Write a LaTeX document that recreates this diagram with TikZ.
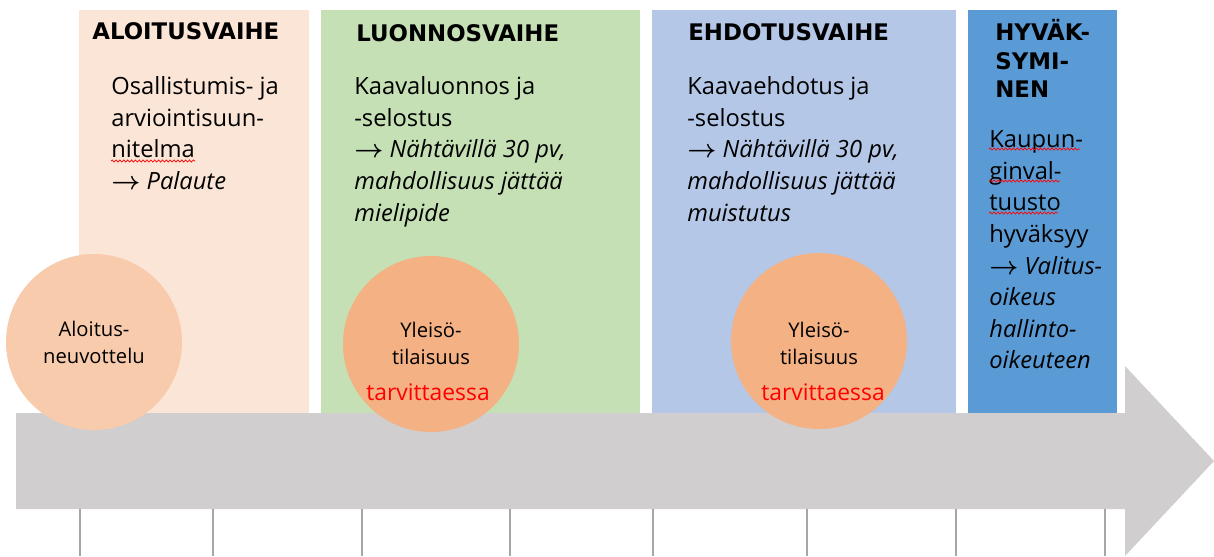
\documentclass[tikz,border=0pt]{standalone}
\usepackage{fontspec}
\setmainfont{Open Sans}
\newfontfamily\vaihefont{DejaVu Sans}
\usepackage{xcolor}
\usepackage{tikz}
\usetikzlibrary{decorations.pathmorphing}
\definecolor{aloitusvari}{HTML}{FBE5D6}
\definecolor{luonnosvari}{HTML}{C5E0B4}
\definecolor{ehdotusvari}{HTML}{B4C7E7}
\definecolor{hyvaksyvari}{HTML}{5B9BD5}
\definecolor{nuolivari}{HTML}{D0CECE}
\definecolor{pallovari}{HTML}{F8CBAD}
\definecolor{yleisovari}{HTML}{F4B183}
\definecolor{viivavari}{HTML}{A6A6A6}
\newcommand{\nuoli}{{\boldmath$\rightarrow$}}

\begin{document}
\begin{tikzpicture}[x=0.02cm,y=-0.02cm,
	otsikko/.style={anchor=north west,inner sep=0,align=left,font=\vaihefont\bfseries\fontsize{13}{16.2}\selectfont},
	leipa/.style={anchor=north west,inner sep=0,align=left,font=\fontsize{13.5}{18}\selectfont},
	pallo/.style={inner sep=0,align=center,font=\fontsize{11.5}{15.3}\selectfont},
	tarve/.style={anchor=base,inner sep=0,text=red,font=\fontsize{13}{15}\selectfont},
	kiemura/.style={red,line width=0.4pt,decorate,decoration={snake,amplitude=0.6pt,segment length=2.2pt}}]
	\useasboundingbox (0,0) rectangle (1214,556);
	% vaiheet
	\fill[aloitusvari] (79,10) rectangle (309,413);
	\fill[luonnosvari] (321,10) rectangle (640,413);
	\fill[ehdotusvari] (652,10) rectangle (956,413);
	\fill[hyvaksyvari] (968,10) rectangle (1117,413);
	% aikajana
	\fill[nuolivari] (16,413) -- (1125,413) -- (1125,366) -- (1214,461) -- (1125,556) -- (1125,509) -- (16,509) -- cycle;
	\foreach \x in {80,213,362,510,653,807,956,1105} \draw[viivavari,line width=1.1pt] (\x,509) -- (\x,556);
	% tilaisuudet
	\fill[pallovari] (94,342) circle (88);
	\fill[yleisovari] (431,344) circle (88);
	\fill[yleisovari] (819,341) circle (88);
	\node[pallo] (neuvottelu) at (94,342) {Aloitus-\\neuvottelu};
	\node[pallo] (yleiso1) at (431,343) {Yleisö-\\tilaisuus};
	\node[tarve] (tarve1) at (428,400) {tarvittaessa};
	\node[pallo] (yleiso2) at (819,343) {Yleisö-\\tilaisuus};
	\node[tarve] (tarve2) at (823,400) {tarvittaessa};
	
	\node[otsikko] (aloitus) at (92,19) {\strut ALOITUSVAIHE};
	\node[otsikko] (luonnos) at (356,21) {\strut LUONNOSVAIHE};
	\node[otsikko] (ehdotus) at (688,20) {\strut EHDOTUSVAIHE};
	\node[otsikko] (hyvaksyminen) at (995,19) {\strut HYVÄK-\\SYMI-\\NEN};
	
	\node[leipa] (aloitusteksti) at (111,72) {\strut Osallistumis- ja\\arviointisuun-\\nitelma\\\nuoli{} \textit{Palaute}};
	\node[leipa] (luonnosteksti) at (354,72) {\strut Kaavaluonnos ja\\-selostus\\\nuoli{} \textit{Nähtävillä 30 pv,}\\\textit{mahdollisuus jättää}\\\textit{mielipide}};
	\node[leipa] (ehdotusteksti) at (687,72) {\strut Kaavaehdotus ja\\-selostus\\\nuoli{} \textit{Nähtävillä 30 pv,}\\\textit{mahdollisuus jättää}\\\textit{muistutus}};
	\node[leipa] (hyvaksyteksti) at (989,125) {\strut Kaupun-\\ginval-\\tuusto\\hyväksyy\\\nuoli{} \textit{Valitus-}\\\textit{oikeus}\\\textit{hallinto-}\\\textit{oikeuteen}};
	% oikoluvun kiemurat
	\draw[kiemura] (111,161) -- (195,161);
	\draw[kiemura] (989,149) -- (1080,149);
	\draw[kiemura] (989,181) -- (1060,181);
	\draw[kiemura] (989,213) -- (1058,213);
\end{tikzpicture}
\end{document}
